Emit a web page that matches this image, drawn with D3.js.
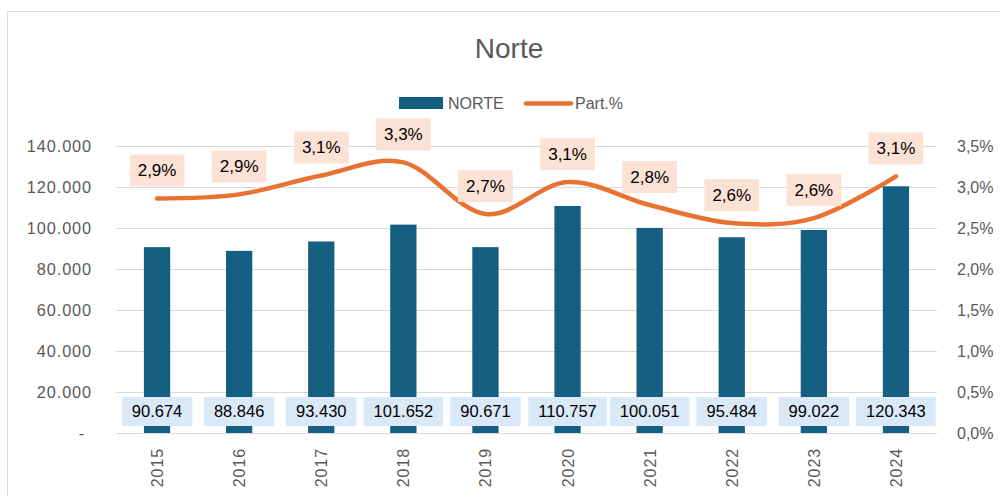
<!DOCTYPE html>
<html>
<head>
<meta charset="utf-8">
<script src="https://cdn.jsdelivr.net/npm/d3@7"></script>
<style>
  body { margin: 0; background: #fff; }
  text { font-family: "Liberation Sans", Arial, sans-serif; }
</style>
</head>
<body>
<script>
const years = ["2015", "2016", "2017", "2018", "2019", "2020", "2021", "2022", "2023", "2024"];
const norte = [90674, 88846, 93430, 101652, 90671, 110757, 100051, 95484, 99022, 120343];
const part = [2.86, 2.91, 3.14, 3.30, 2.67, 3.06, 2.78, 2.56, 2.62, 3.13];
const leftTicks = [0, 20000, 40000, 60000, 80000, 100000, 120000, 140000];
const rightTicks = [0, 0.5, 1.0, 1.5, 2.0, 2.5, 3.0, 3.5];

const W = 1000, H = 496;
const plotLeft = 116, plotRight = 937, plotTop = 146, plotBottom = 433;

const svg = d3.select("body")
    .append("svg")
    .attr("width", W)
    .attr("height", H);

// frame
svg.append("rect")
    .attr("x", 7.5).attr("y", 11.5)
    .attr("width", 1000).attr("height", 500)
    .attr("fill", "#fff")
    .attr("stroke", "#d9d9d9");

const x = d3.scaleBand().domain(years).range([plotLeft, plotRight]).paddingInner(0.68).paddingOuter(0.34);
const yL = d3.scaleLinear().domain([0, 140000]).range([plotBottom, plotTop]);
const yR = d3.scaleLinear().domain([0, 3.5]).range([plotBottom, plotTop]);

const loc = d3.formatLocale({ decimal: ",", thousands: ".", grouping: [3], currency: ["", ""] });
const numFmt = loc.format(",.0f");
const pctFmt = v => loc.format(".1f")(v) + "%";

// gridlines
svg.append("g").selectAll("line")
    .data(leftTicks)
    .enter()
    .append("line")
    .attr("x1", plotLeft).attr("x2", plotRight)
    .attr("y1", d => Math.round(yL(d)) + 0.5)
    .attr("y2", d => Math.round(yL(d)) + 0.5)
    .attr("stroke", "#d9d9d9")
    .attr("stroke-width", 1.2);

// left axis labels
svg.append("g").selectAll("text")
    .data(leftTicks)
    .enter()
    .append("text")
    .attr("x", d => d === 0 ? 85 : 92)
    .attr("y", d => yL(d))
    .attr("dy", "0.35em")
    .attr("text-anchor", "end")
    .attr("font-size", 16.3)
    .attr("letter-spacing", 0.9)
    .attr("fill", "#595959")
    .text(d => d === 0 ? "-" : numFmt(d));

// right axis labels
svg.append("g").selectAll("text")
    .data(rightTicks)
    .enter()
    .append("text")
    .attr("x", 957)
    .attr("y", d => yR(d))
    .attr("dy", "0.35em")
    .attr("font-size", 16)
    .attr("fill", "#595959")
    .text(d => pctFmt(d));

// bars
svg.append("g").selectAll("rect")
    .data(norte)
    .enter()
    .append("rect")
    .attr("x", (d, i) => x(years[i]))
    .attr("y", d => yL(d))
    .attr("width", x.bandwidth())
    .attr("height", d => plotBottom - yL(d))
    .attr("fill", "#156082");

// x labels
svg.append("g").selectAll("text")
    .data(years)
    .enter()
    .append("text")
    .attr("transform", d => `translate(${x(d) + x.bandwidth() / 2 + 6},448) rotate(-90)`)
    .attr("text-anchor", "end")
    .attr("font-size", 16)
    .attr("letter-spacing", 0.9)
    .attr("fill", "#595959")
    .text(d => d);

// line
const line = d3.line()
    .x((d, i) => x(years[i]) + x.bandwidth() / 2)
    .y(d => yR(d))
    .curve(d3.curveCardinal.tension(0));

svg.append("path")
    .datum(part)
    .attr("d", line)
    .attr("fill", "none")
    .attr("stroke", "#e97132")
    .attr("stroke-width", 4.5)
    .attr("stroke-linecap", "round");

// bar value labels
const barLab = svg.append("g").selectAll("g")
    .data(norte)
    .enter()
    .append("g")
    .attr("transform", (d, i) => `translate(${x(years[i]) + x.bandwidth() / 2},411.5)`);
barLab.append("rect").attr("fill", "#dae9f7");
barLab.append("text")
    .attr("text-anchor", "middle")
    .attr("dy", "0.35em")
    .attr("font-size", 16.5)
    .attr("fill", "#000")
    .text(d => numFmt(d));
barLab.each(function () {
    const g = d3.select(this);
    const w = g.select("text").node().getComputedTextLength() + 20;
    g.select("rect").attr("x", -w / 2).attr("y", -14.5).attr("width", w).attr("height", 29);
});

// percentage labels
const pctLab = svg.append("g").selectAll("g")
    .data(part)
    .enter()
    .append("g")
    .attr("transform", (d, i) => `translate(${x(years[i]) + x.bandwidth() / 2},${yR(d) - 28})`);
pctLab.append("rect").attr("fill", "#fbe2d5");
pctLab.append("text")
    .attr("text-anchor", "middle")
    .attr("dy", "0.35em")
    .attr("font-size", 17)
    .attr("fill", "#000")
    .text(d => pctFmt(d));
pctLab.each(function () {
    const g = d3.select(this);
    const w = g.select("text").node().getComputedTextLength() + 16;
    g.select("rect").attr("x", -w / 2).attr("y", -16).attr("width", w).attr("height", 32);
});

// title
svg.append("text")
    .attr("x", 509)
    .attr("y", 58)
    .attr("text-anchor", "middle")
    .attr("font-size", 28)
    .attr("fill", "#595959")
    .text("Norte");

// legend
svg.append("rect")
    .attr("x", 399).attr("y", 97)
    .attr("width", 44).attr("height", 12)
    .attr("fill", "#156082");
svg.append("text")
    .attr("x", 448).attr("y", 103)
    .attr("dy", "0.35em")
    .attr("font-size", 16)
    .attr("fill", "#595959")
    .text("NORTE");
svg.append("line")
    .attr("x1", 526).attr("x2", 571)
    .attr("y1", 103.5).attr("y2", 103.5)
    .attr("stroke", "#e97132")
    .attr("stroke-width", 4.5)
    .attr("stroke-linecap", "round");
svg.append("text")
    .attr("x", 575).attr("y", 103)
    .attr("dy", "0.35em")
    .attr("font-size", 16)
    .attr("fill", "#595959")
    .text("Part.%");
</script>
</body>
</html>
